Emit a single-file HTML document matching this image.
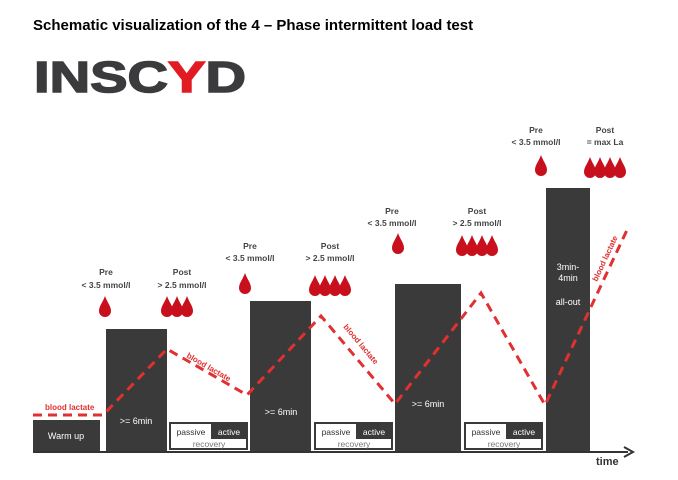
<!DOCTYPE html>
<html><head><style>
body{margin:0;background:#fff;}
svg text{font-family:"Liberation Sans",sans-serif;}
</style></head><body>
<svg width="678" height="475" viewBox="0 0 678 475" xmlns="http://www.w3.org/2000/svg">
<defs>
<path id="d" d="M0,-11 C2,-5 6,-1 6,4 A6,6 0 0 1 -6,4 C-6,-1 -2,-5 0,-11Z" fill="#c8101c"/>
</defs>
<text x="33" y="30" font-size="15" font-weight="bold" fill="#000">Schematic visualization of the 4 – Phase intermittent load test</text>
<text x="34" y="92" font-size="44" font-weight="bold" fill="#3b3b3d" stroke="#3b3b3d" stroke-width="1.5" textLength="212" lengthAdjust="spacingAndGlyphs">INSC<tspan fill="#e21b23" stroke="#e21b23">Y</tspan>D</text>
<line x1="33" y1="452" x2="628" y2="452" stroke="#333" stroke-width="2"/>
<path d="M624,447 L633,452 L624,457" fill="none" stroke="#333" stroke-width="2"/>
<text x="596" y="465" font-size="11" font-weight="bold" fill="#333">time</text>
<rect x="33" y="420" width="67" height="31" fill="#3a3a3a"/>
<text x="66" y="439" font-size="9" fill="#fff" text-anchor="middle">Warm up</text>
<rect x="106" y="329" width="61" height="122" fill="#3a3a3a"/>
<text x="136" y="424" font-size="9" fill="#fff" text-anchor="middle">&gt;= 6min</text>
<rect x="250" y="301" width="61" height="150" fill="#3a3a3a"/>
<text x="281" y="415" font-size="9" fill="#fff" text-anchor="middle">&gt;= 6min</text>
<rect x="395" y="284" width="66" height="167" fill="#3a3a3a"/>
<text x="428" y="407" font-size="9" fill="#fff" text-anchor="middle">&gt;= 6min</text>
<rect x="546" y="188" width="44" height="263" fill="#3a3a3a"/>
<text x="568" y="270" font-size="9" fill="#fff" text-anchor="middle">3min-</text>
<text x="568" y="281" font-size="9" fill="#fff" text-anchor="middle">4min</text>
<text x="568" y="305" font-size="9" fill="#fff" text-anchor="middle">all-out</text>
<g font-size="8.5">
<g transform="translate(169,422)">
<rect x="0" y="0" width="79" height="28" fill="#3a3a3a"/>
<rect x="2" y="2" width="40" height="15" fill="#fff"/>
<rect x="2" y="17" width="75" height="9" fill="#fff"/>
<text x="22" y="13" text-anchor="middle" fill="#333">passive</text>
<text x="60" y="13" text-anchor="middle" fill="#fff">active</text>
<text x="40" y="25" text-anchor="middle" fill="#777">recovery</text>
</g>
<g transform="translate(314,422)">
<rect x="0" y="0" width="79" height="28" fill="#3a3a3a"/>
<rect x="2" y="2" width="40" height="15" fill="#fff"/>
<rect x="2" y="17" width="75" height="9" fill="#fff"/>
<text x="22" y="13" text-anchor="middle" fill="#333">passive</text>
<text x="60" y="13" text-anchor="middle" fill="#fff">active</text>
<text x="40" y="25" text-anchor="middle" fill="#777">recovery</text>
</g>
<g transform="translate(464,422)">
<rect x="0" y="0" width="79" height="28" fill="#3a3a3a"/>
<rect x="2" y="2" width="40" height="15" fill="#fff"/>
<rect x="2" y="17" width="75" height="9" fill="#fff"/>
<text x="22" y="13" text-anchor="middle" fill="#333">passive</text>
<text x="60" y="13" text-anchor="middle" fill="#fff">active</text>
<text x="40" y="25" text-anchor="middle" fill="#777">recovery</text>
</g>
</g>
<polyline points="33,415 103,415 167,349 247,395 321,316 395,404 481,293 545,405 627,230" fill="none" stroke="#e03030" stroke-width="3" stroke-dasharray="9,6"/>
<g font-size="8" font-weight="bold" fill="#e03030">
<text x="45" y="410">blood lactate</text>
<text x="0" y="0" transform="translate(186,357) rotate(30)">blood lactate</text>
<text x="0" y="0" transform="translate(343,327) rotate(50)">blood lactate</text>
<text x="0" y="0" transform="translate(597,282) rotate(-65)">blood lactate</text>
</g>
<g font-size="8.5" font-weight="bold" fill="#444" text-anchor="middle">
<text x="106" y="275">Pre</text><text x="106" y="288">&lt; 3.5 mmol/l</text>
<text x="182" y="275">Post</text><text x="182" y="288">&gt; 2.5 mmol/l</text>
<text x="250" y="249">Pre</text><text x="250" y="261">&lt; 3.5 mmol/l</text>
<text x="330" y="249">Post</text><text x="330" y="261">&gt; 2.5 mmol/l</text>
<text x="392" y="214">Pre</text><text x="392" y="226">&lt; 3.5 mmol/l</text>
<text x="477" y="214">Post</text><text x="477" y="226">&gt; 2.5 mmol/l</text>
<text x="536" y="133">Pre</text><text x="536" y="145">&lt; 3.5 mmol/l</text>
<text x="605" y="133">Post</text><text x="605" y="145">= max La</text>
</g>
<use href="#d" x="105" y="307"/>
<use href="#d" x="167" y="307"/><use href="#d" x="177" y="307"/><use href="#d" x="187" y="307"/>
<use href="#d" x="245" y="284"/>
<use href="#d" x="315" y="286"/><use href="#d" x="325" y="286"/><use href="#d" x="335" y="286"/><use href="#d" x="345" y="286"/>
<use href="#d" x="398" y="244"/>
<use href="#d" x="462" y="246"/><use href="#d" x="472" y="246"/><use href="#d" x="482" y="246"/><use href="#d" x="492" y="246"/>
<use href="#d" x="541" y="166"/>
<use href="#d" x="590" y="168"/><use href="#d" x="600" y="168"/><use href="#d" x="610" y="168"/><use href="#d" x="620" y="168"/>
</svg>
</body></html>
